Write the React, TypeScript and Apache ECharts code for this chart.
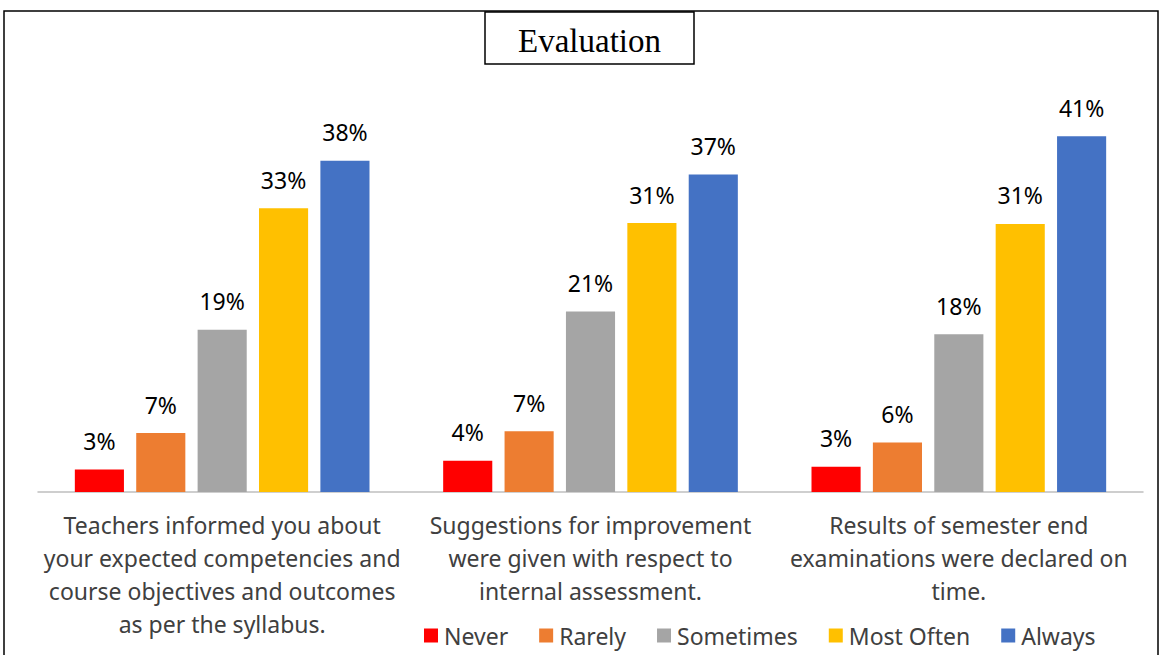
import React, { useEffect, useRef } from "react";
import * as echarts from "echarts";

const categories = [
  "Teachers informed you about\nyour expected competencies and\ncourse objectives and outcomes\nas per the syllabus.",
  "Suggestions for improvement\nwere given with respect to\ninternal assessment.",
  "Results of semester end\nexaminations were declared on\ntime.",
];
const seriesNames = ["Never", "Rarely", "Sometimes", "Most Often", "Always"];
const colors = ["#FF0000", "#ED7D31", "#A5A5A5", "#FFC000", "#4472C4"];
const never = [2.6, 3.6, 2.9];
const rarely = [6.8, 7.0, 5.7];
const sometimes = [18.7, 20.8, 18.2];
const mostOften = [32.7, 31.0, 30.9];
const always = [38.2, 36.6, 41.0];
const seriesValues = [never, rarely, sometimes, mostOften, always];
const titleText = "Evaluation";

const FONT = "'Noto Sans', sans-serif";

export default function App() {
  const ref = useRef<HTMLDivElement>(null);
  useEffect(() => {
    if (!ref.current) return;
    const chart = echarts.init(ref.current, undefined, { renderer: "svg" });
    chart.setOption({
      animation: false,
      grid: { left: 38, right: 18, top: 93, bottom: 163 },
      xAxis: {
        type: "category",
        data: categories,
        axisLine: { show: true, lineStyle: { color: "#BFBFBF", width: 1.5 } },
        axisTick: { show: false },
        axisLabel: {
          interval: 0,
          fontFamily: FONT,
          fontSize: 23,
          color: "#404040",
          lineHeight: 33,
          margin: 16,
          align: "center",
        },
      },
      yAxis: { type: "value", min: 0, max: 46, show: false, splitLine: { show: false } },
      legend: {
        left: 419,
        top: 619,
        itemWidth: 14,
        itemHeight: 14,
        itemGap: 31,
        icon: "rect",
        textStyle: { fontFamily: FONT, fontSize: 23, color: "#404040", padding: [0, 0, 0, 1] },
        data: seriesNames,
      },
      graphic: [
        {
          type: "rect",
          shape: { x: 4, y: 11, width: 1154, height: 700 },
          style: { fill: "none", stroke: "#000", lineWidth: 1.5 },
          silent: true,
        },
        {
          type: "rect",
          shape: { x: 485, y: 12, width: 209, height: 52 },
          style: { fill: "#fff", stroke: "#000", lineWidth: 1.5 },
          z: 10,
        },
        {
          type: "text",
          x: 589.5,
          y: 41,
          z: 11,
          style: {
            text: titleText,
            fontFamily: "'Liberation Serif', 'DejaVu Serif', serif",
            fontSize: 33,
            fill: "#000",
            align: "center",
            verticalAlign: "middle",
          },
        },
      ],
      series: seriesNames.map((name, i) => ({
        name,
        type: "bar",
        data: seriesValues[i],
        barGap: "25%",
        barCategoryGap: "20%",
        itemStyle: { color: colors[i] },
        label: {
          show: true,
          position: "top",
          distance: 17,
          fontFamily: FONT,
          fontSize: 23,
          color: "#000",
          formatter: (p: any) => Math.round(p.value) + "%",
        },
      })),
    });
    return () => chart.dispose();
  }, []);
  return (
    <div
      ref={ref}
      style={{ position: "fixed", left: 0, top: 0, width: 1161, height: 655, background: "#fff" }}
    />
  );
}
